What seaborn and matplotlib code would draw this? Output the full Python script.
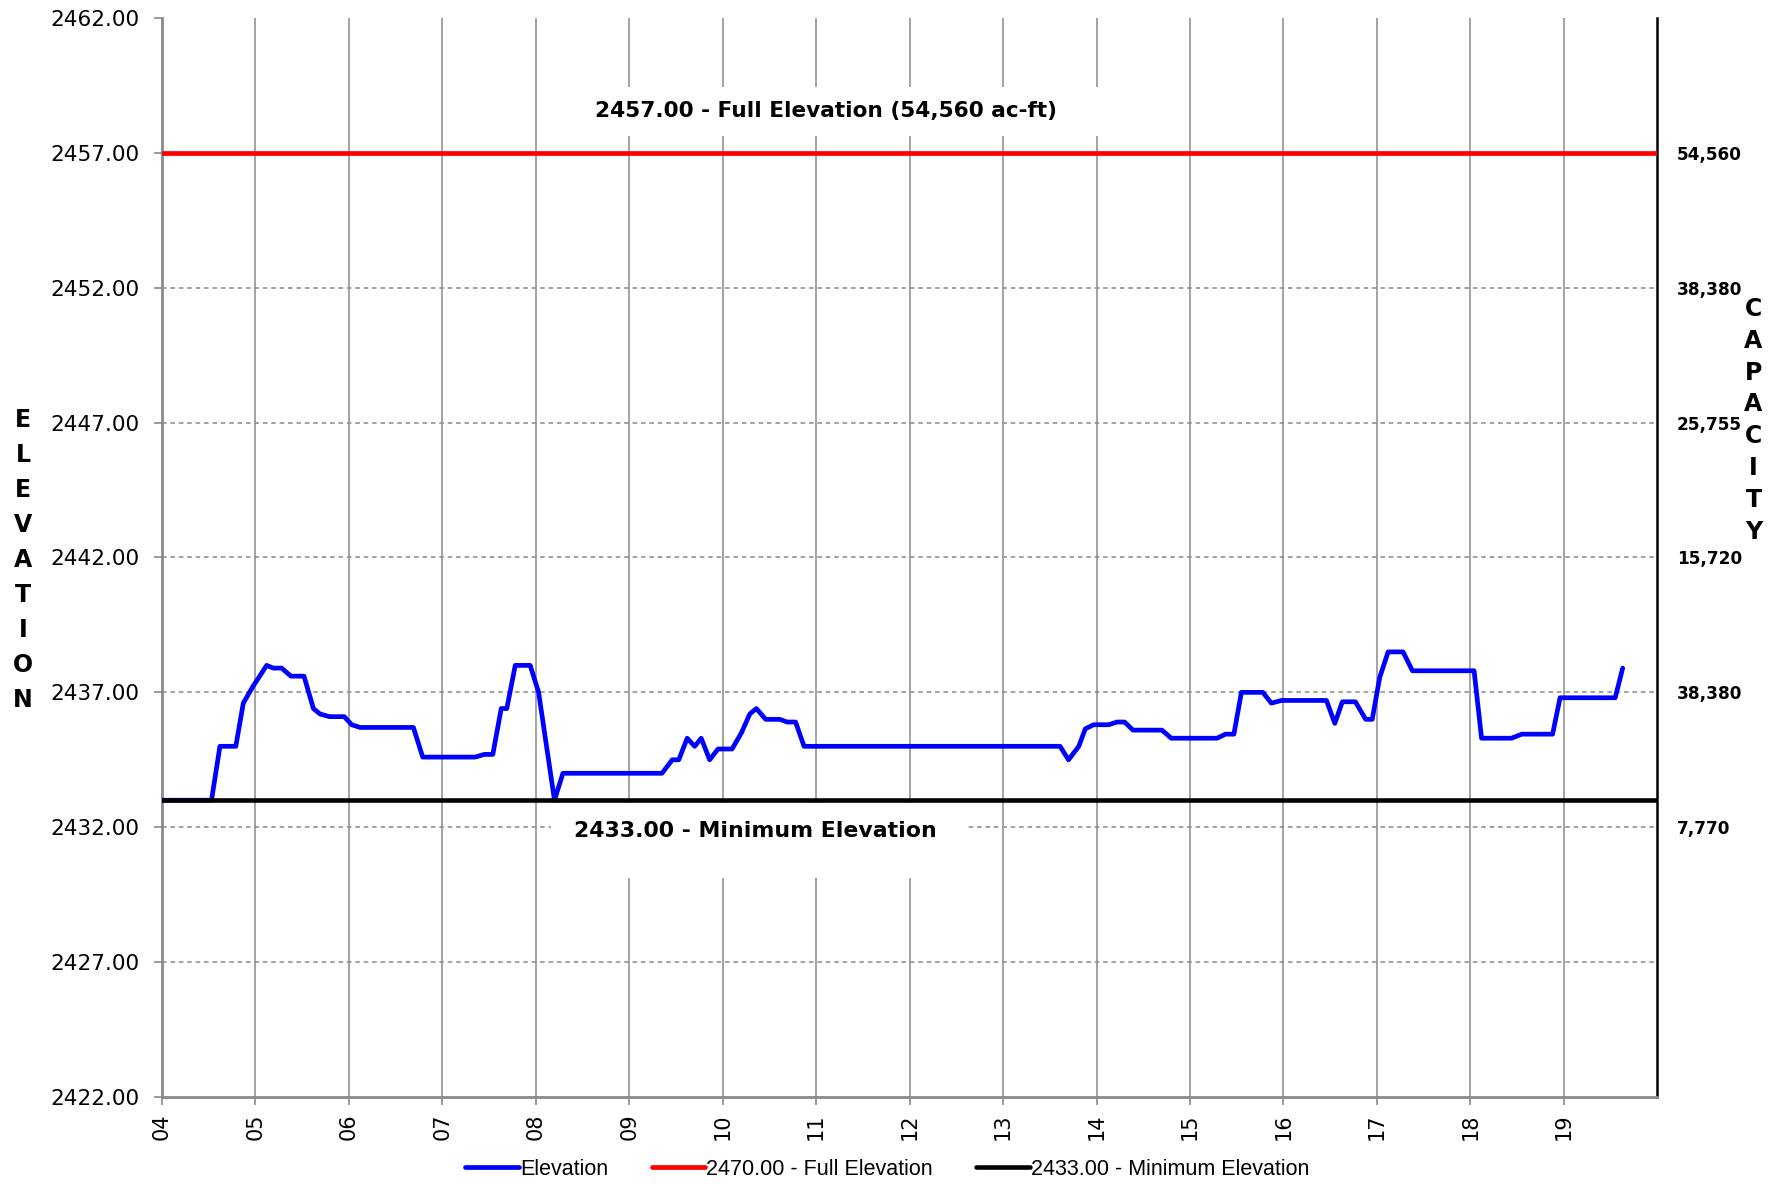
import numpy as np
import pandas as pd
import matplotlib
matplotlib.use("Agg")
import matplotlib.pyplot as plt
from matplotlib.patches import Rectangle
import seaborn as sns

# --- data ---
years = [4.00, 4.53, 4.62, 4.79, 4.87, 4.97, 5.12, 5.19, 5.28, 5.38, 5.52, 5.62,
         5.69, 5.79, 5.95, 6.03, 6.12, 6.69, 6.79, 7.35, 7.45, 7.54, 7.63, 7.69,
         7.78, 7.94, 8.03, 8.20, 8.29, 9.35, 9.46, 9.53, 9.62, 9.70, 9.77, 9.86,
         9.95, 10.10, 10.20, 10.29, 10.36, 10.46, 10.61, 10.69, 10.78, 10.87,
         13.61, 13.70, 13.81, 13.88, 13.97, 14.13, 14.22, 14.30, 14.39, 14.70,
         14.80, 15.29, 15.38, 15.47, 15.55, 15.78, 15.87, 15.98, 16.46, 16.55,
         16.63, 16.77, 16.88, 16.95, 17.03, 17.12, 17.28, 17.38, 18.04, 18.12,
         18.44, 18.55, 18.88, 18.96, 19.55, 19.63]
elevation = [2433.0, 2433.0, 2435.0, 2435.0, 2436.6, 2437.2, 2438.0, 2437.9, 2437.9,
             2437.6, 2437.6, 2436.4, 2436.2, 2436.1, 2436.1, 2435.8, 2435.7, 2435.7,
             2434.6, 2434.6, 2434.7, 2434.7, 2436.4, 2436.4, 2438.0, 2438.0, 2437.0,
             2433.0, 2434.0, 2434.0, 2434.5, 2434.5, 2435.3, 2435.0, 2435.3, 2434.5,
             2434.9, 2434.9, 2435.5, 2436.2, 2436.4, 2436.0, 2436.0, 2435.9, 2435.9,
             2435.0,
             2435.0, 2434.5, 2435.0, 2435.65, 2435.8, 2435.8, 2435.9, 2435.9, 2435.6,
             2435.6, 2435.3, 2435.3, 2435.45, 2435.45, 2437.0, 2437.0, 2436.6, 2436.7,
             2436.7, 2435.85, 2436.65, 2436.65, 2436.0, 2436.0, 2437.55, 2438.5,
             2438.5, 2437.8, 2437.8, 2435.3, 2435.3, 2435.45, 2435.45, 2436.8,
             2436.8, 2437.9]

full_elev = 2457.0
min_elev = 2433.0

elev_ticks = [2422, 2427, 2432, 2437, 2442, 2447, 2452, 2457, 2462]
cap_ticks = [2432, 2437, 2442, 2447, 2452, 2457]
cap_labels = ["7,770", "38,380", "15,720", "25,755", "38,380", "54,560"]
year_ticks = list(range(4, 20))
year_labels = [f"{y:02d}" for y in year_ticks]

df = pd.DataFrame({"year": years, "elevation": elevation})

sns.set_theme(style="white")
plt.rcParams["font.family"] = ["DejaVu Sans"]
plt.rcParams["text.color"] = "black"
plt.rcParams["xtick.labelcolor"] = "black"
plt.rcParams["ytick.labelcolor"] = "black"

fig = plt.figure(figsize=(17.82, 11.84), dpi=100)
ax = fig.add_axes([0.0909, 0.0735, 0.9300 - 0.0909, 0.9848 - 0.0735])

grid_col = "#8a8a8a"
ax.set_axisbelow(True)
for x in year_ticks[1:]:
    ax.axvline(x, color=grid_col, lw=1.1, zorder=0.5)
for y in elev_ticks[1:-1]:
    ax.axhline(y, color=grid_col, lw=1.1, ls=(0, (3, 2.5)), zorder=0.5)

# white boxes behind the two text labels
ax.add_patch(Rectangle((8.2, 2457.62), 6.15, 1.83, facecolor="white",
                       edgecolor="none", zorder=1))
ax.add_patch(Rectangle((8.16, 2430.1), 4.45, 2.8, facecolor="white",
                       edgecolor="none", zorder=1))

sns.lineplot(data=df, x="year", y="elevation", ax=ax, color="#0000ff", lw=3.4,
             sort=False, estimator=None, zorder=3, label="Elevation", legend=False)
ax.axhline(full_elev, color="#ff0000", lw=3.4, zorder=4,
           label="2470.00 - Full Elevation")
ax.axhline(min_elev, color="black", lw=3.3, zorder=4,
           label="2433.00 - Minimum Elevation")

ax.text(11.11, 2458.55, "2457.00 - Full Elevation (54,560 ac-ft)", ha="center",
        va="center", fontsize=15.6, fontweight="bold", zorder=5)
ax.text(10.35, 2431.87, "2433.00 - Minimum Elevation", ha="center",
        va="center", fontsize=15.8, fontweight="bold", zorder=5)

ax.set_xlim(4, 20)
ax.set_ylim(2422, 2462)
ax.set_xticks(year_ticks)
ax.set_xticklabels(year_labels, rotation=90, fontsize=15)
ax.set_yticks(elev_ticks)
ax.set_yticklabels([f"{v:.2f}" for v in elev_ticks], fontsize=15.5)
ax.tick_params(axis="both", which="major", length=6, width=1.2, color=grid_col,
               direction="out", bottom=True, left=True)
ax.tick_params(axis="y", pad=10)
ax.tick_params(axis="x", pad=6)
ax.set_xlabel("")
ax.set_ylabel("")

for side in ["left", "bottom"]:
    ax.spines[side].set_color(grid_col)
    ax.spines[side].set_linewidth(2)
ax.spines["top"].set_visible(False)
ax.spines["right"].set_color("black")
ax.spines["right"].set_linewidth(1.8)

ax2 = ax.twinx()
ax2.set_ylim(2422, 2462)
ax2.set_yticks(cap_ticks)
ax2.set_yticklabels(cap_labels, fontsize=12.2, fontweight="bold")
ax2.tick_params(axis="y", length=0, pad=14)
ax2.grid(False)
for s in ax2.spines.values():
    s.set_visible(False)

fig.text(0.0129, 0.527, "\n".join("ELEVATION"), ha="center", va="center",
         fontsize=17, fontweight="bold", linespacing=1.58)
fig.text(0.984, 0.645, "\n".join("CAPACITY"), ha="center", va="center",
         fontsize=17, fontweight="bold", linespacing=1.41)

handles, labels = ax.get_legend_handles_labels()
fig.legend(handles, labels, loc="center", bbox_to_anchor=(0.498, 0.0125),
           ncol=3, frameon=False, handlelength=2.5, handletextpad=0.05,
           columnspacing=2.0, prop={"family": ["Liberation Sans", "DejaVu Sans"],
                                    "size": 15.5})

fig.savefig("out.png", dpi=100, facecolor="white")
